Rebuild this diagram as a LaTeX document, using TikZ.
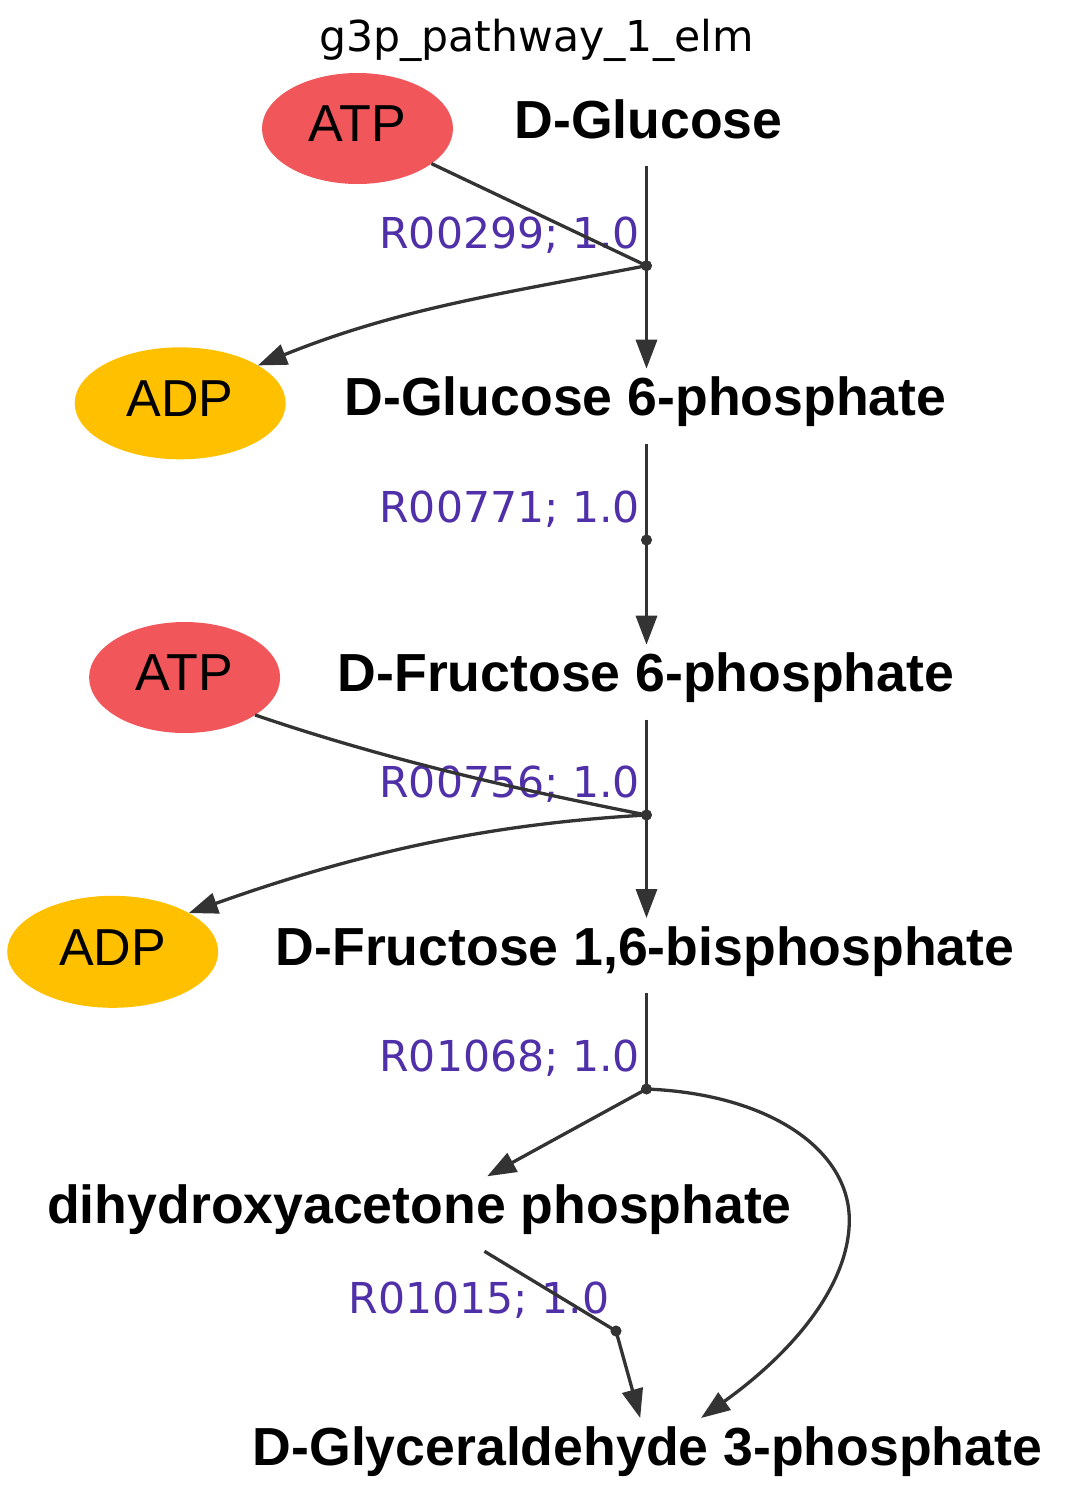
\documentclass[tikz,border=0pt]{standalone}
\usepackage{fontspec}
\setmainfont{Liberation Sans}
\newfontfamily\dejavu{DejaVu Sans}
\usetikzlibrary{arrows.meta,shapes.geometric}
\definecolor{edgec}{HTML}{333333}
\definecolor{atpc}{HTML}{F0565A}
\definecolor{adpc}{HTML}{FFC000}
\definecolor{rxnc}{HTML}{5030A8}
\begin{document}
\begin{tikzpicture}[x=0.5pt,y=-0.5pt,
  met/.style={anchor=base, inner sep=0pt, outer sep=0pt, text height=23.5pt, text depth=14pt,
              font=\fontsize{26.8pt}{30pt}\selectfont\bfseries},
  cof/.style={ellipse, inner sep=0pt, outer sep=0pt, text height=18.6pt, text depth=5.4pt,
              font=\fontsize{26pt}{30pt}\selectfont},
  atp/.style={cof, fill=atpc, minimum width=95.5pt, minimum height=55.5pt},
  adp/.style={cof, fill=adpc, minimum width=105.5pt, minimum height=56pt},
  rpt/.style={circle, fill=edgec, inner sep=0pt, outer sep=0pt, minimum size=5.4pt},
  rlab/.style={anchor=base east, inner sep=0pt, text=rxnc, font=\dejavu\fontsize{21.3pt}{25pt}\selectfont},
  con/.style={draw=edgec, line width=1.65pt},
  arr/.style={con, -{Triangle[length=14.5pt,width=10.5pt]}}]
\useasboundingbox (0,0) rectangle (1076,1500);

\node[anchor=base, inner sep=0pt, font=\dejavu\fontsize{21.3pt}{25pt}\selectfont] (title) at (536.5,51.7) {g3p\_pathway\_1\_elm};

\node[atp] (atp1) at (357.5,128.5) {ATP};
\node[met] (glc) at (648.5,138.3) {D-Glucose};
\node[rpt] (p1) at (646.5,265.7) {};
\node[rlab] (l1) at (640.5,248.4) {R00299; 1.0};
\node[adp] (adp1) at (180.2,403.3) {ADP};
\node[met] (g6p) at (645.5,415.7) {D-Glucose 6-phosphate};
\node[rpt] (p2) at (646.5,540) {};
\node[rlab] (l2) at (640.5,522.7) {R00771; 1.0};
\node[atp] (atp2) at (184.6,677.5) {ATP};
\node[met] (f6p) at (646,691.7) {D-Fructose 6-phosphate};
\node[rpt] (p3) at (646.5,815) {};
\node[rlab] (l3) at (640.5,797.7) {R00756; 1.0};
\node[adp] (adp2) at (112.7,951.8) {ADP};
\node[met] (fbp) at (645,965) {D-Fructose 1,6-bisphosphate};
\node[rpt] (p4) at (646.5,1089) {};
\node[rlab] (l4) at (640.5,1071.7) {R01068; 1.0};
\node[met] (dhap) at (419.5,1223.3) {dihydroxyacetone phosphate};
\node[rpt] (p5) at (616,1331) {};
\node[rlab] (l5) at (610,1313.7) {R01015; 1.0};
\node[met] (gap) at (647.5,1465) {D-Glyceraldehyde 3-phosphate};

% R00299
\draw[con] (glc.south -| p1) -- (p1.center);
\draw[con] (atp1) -- (p1.center);
\draw[arr] (p1.center) -- (g6p.north -| p1);
\draw[arr] (p1.center) .. controls (501.5,293.6) and (398,308.7) .. (adp1.26.7);
% R00771
\draw[con] (g6p.south -| p2) -- (p2.center);
\draw[arr] (p2.center) -- (f6p.north -| p2);
% R00756
\draw[con] (f6p.south -| p3) -- (p3.center);
\draw[con] (atp2.-28.4) .. controls (385.8,759.6) and (516.4,789.3) .. (p3.center);
\draw[arr] (p3.center) -- (fbp.north -| p3);
\draw[arr] (p3.center) .. controls (516.4,822.5) and (385,843) .. (adp2.27);
% R01068
\draw[con] (fbp.south -| p4) -- (p4.center);
\draw[arr] (p4.center) -- (dhap.29);
\draw[arr] (p4.center) .. controls (770,1094) and (849.3,1150) .. (849.3,1220)
               .. controls (849.3,1285) and (793.2,1352) .. (gap.35.5);
% R01015
\draw[con] (dhap.-30.6) -- (p5.center);
\draw[arr] (p5.center) -- (gap.101);

% dots on top of the connectors
\foreach \p in {p1,p2,p3,p4,p5} \fill[edgec] (\p.center) circle[radius=2.7pt];
\end{tikzpicture}
\end{document}
